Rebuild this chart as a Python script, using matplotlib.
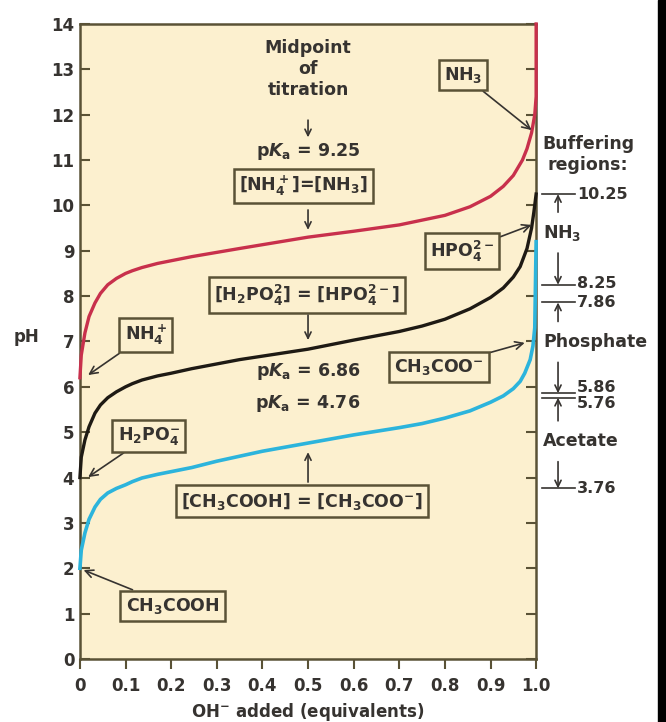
import matplotlib
matplotlib.use('Agg')
import matplotlib.pyplot as plt
from matplotlib.patches import Rectangle

plt.rcParams['font.family'] = ['DejaVu Sans']
plt.rcParams['font.weight'] = 'bold'
plt.rcParams['mathtext.fontset'] = 'custom'
plt.rcParams['mathtext.rm'] = 'DejaVu Sans:bold'
plt.rcParams['mathtext.it'] = 'DejaVu Sans:italic:bold'
plt.rcParams['mathtext.bf'] = 'DejaVu Sans:bold'
plt.rcParams['mathtext.default'] = 'rm'

# curve readings (OH- equivalents, pH)
acetate_x = [0, 0.003, 0.011, 0.02, 0.033, 0.045, 0.061, 0.08, 0.1, 0.115, 0.136, 0.17,
             0.2, 0.245, 0.3, 0.4, 0.5, 0.6, 0.7, 0.75, 0.8, 0.855, 0.9, 0.928, 0.95,
             0.965, 0.975, 0.987, 0.993, 0.997, 1.0]
acetate_ph = [2.0, 2.4, 2.78, 3.08, 3.35, 3.52, 3.66, 3.76, 3.84, 3.91, 3.99, 4.07,
              4.13, 4.22, 4.36, 4.58, 4.76, 4.94, 5.1, 5.19, 5.31, 5.47, 5.66, 5.8, 5.96,
              6.12, 6.3, 6.6, 6.9, 7.3, 9.2]

phosphate_x = [0, 0.003, 0.011, 0.02, 0.033, 0.045, 0.061, 0.08, 0.1, 0.115, 0.136,
               0.17, 0.2, 0.245, 0.35, 0.5, 0.6, 0.7, 0.75, 0.8, 0.855, 0.9, 0.928,
               0.95, 0.965, 0.98, 0.99, 0.995, 1.0]
phosphate_ph = [4.0, 4.45, 4.83, 5.12, 5.42, 5.6, 5.76, 5.89, 6.0, 6.07, 6.15,
                6.24, 6.3, 6.4, 6.6, 6.83, 7.03, 7.22, 7.34, 7.49, 7.72, 7.97, 8.18,
                8.42, 8.65, 9.05, 9.5, 9.85, 10.25]

ammonia_x = [0, 0.003, 0.011, 0.02, 0.033, 0.045, 0.061, 0.08, 0.1, 0.115, 0.136, 0.17,
             0.2, 0.245, 0.35, 0.5, 0.6, 0.7, 0.8, 0.855, 0.9, 0.928, 0.95, 0.97,
             0.98, 0.99, 0.997, 1.0, 1.0]
ammonia_ph = [6.2, 6.7, 7.19, 7.55, 7.85, 8.06, 8.25, 8.39, 8.5, 8.56, 8.63, 8.72,
              8.78, 8.87, 9.05, 9.3, 9.43, 9.57, 9.78, 9.97, 10.2, 10.42, 10.66, 11.0,
              11.25, 11.6, 12.0, 12.4, 14.0]

# buffering region limits on the right side
region_names = ['NH$_3$', 'Phosphate', 'Acetate']
region_top = [10.25, 7.86, 5.76]
region_bottom = [8.25, 5.86, 3.76]
region_label_y = [9.4, 6.99, 4.8]
top_label_shift = [0.0, 0.0, -0.13]
bottom_label_shift = [0.02, 0.12, 0.0]

bg = '#fcf0cf'
edge = '#5a5236'
txt = '#363330'
fs = 12.5

fig = plt.figure(figsize=(6.66, 7.22), dpi=100)
ax = fig.add_axes([0.120, 0.0873, 0.685, 0.8795])
ax.set_facecolor(bg)

ax.plot(ammonia_x, ammonia_ph, color='#c8304c', lw=2.4, solid_joinstyle='round', clip_on=False, zorder=3)
ax.plot(phosphate_x, phosphate_ph, color='#1e1a14', lw=2.4, solid_joinstyle='round', clip_on=False, zorder=3)
ax.plot(acetate_x, acetate_ph, color='#2cb4dc', lw=2.6, solid_joinstyle='round', clip_on=False, zorder=3)

ax.set_xlim(0, 1.0)
ax.set_ylim(0, 14)
ax.set_xticks([0, 0.1, 0.2, 0.3, 0.4, 0.5, 0.6, 0.7, 0.8, 0.9, 1.0])
ax.set_xticklabels(['0', '0.1', '0.2', '0.3', '0.4', '0.5', '0.6', '0.7', '0.8', '0.9', '1.0'])
ax.set_yticks(range(0, 15))
for s in ax.spines.values():
    s.set_color(edge)
    s.set_linewidth(1.8)
ax.tick_params(axis='y', direction='in', length=7, width=1.5, color=edge,
               labelsize=12, labelcolor=txt, pad=4, right=True)
ax.tick_params(axis='x', direction='out', length=7, width=1.5, color=edge,
               labelsize=12, labelcolor=txt, pad=6)
for lab in ax.get_xticklabels() + ax.get_yticklabels():
    lab.set_fontweight('bold')

ax.text(-0.116, 7.1, 'pH', fontsize=12, color=txt, ha='center', va='center')
ax.text(0.5, -1.17, 'OH$^{-}$ added (equivalents)', fontsize=12, color=txt,
        ha='center', va='center', clip_on=False)

box = dict(boxstyle='square,pad=0.3', fc=bg, ec=edge, lw=1.8)
arr = dict(arrowstyle='->,head_length=0.45,head_width=0.22', color=txt, lw=1.2,
           shrinkA=0, shrinkB=0)

# midpoint annotations
ax.text(0.5, 13.01, 'Midpoint\nof\ntitration', fontsize=fs, color=txt,
        ha='center', va='center', linespacing=1.2)
ax.annotate('', xy=(0.5, 11.5), xytext=(0.5, 11.88), arrowprops=arr)
ax.text(0.5, 11.18, 'p$\\mathit{K}_\\mathrm{a}$ = 9.25', fontsize=fs, color=txt, ha='center', va='center')
ax.text(0.49, 10.43, '[NH$_4^+$]=[NH$_3$]', fontsize=fs, color=txt, ha='center', va='center', bbox=box)
ax.annotate('', xy=(0.5, 9.46), xytext=(0.5, 9.9), arrowprops=arr)

ax.text(0.498, 8.02, '[H$_2$PO$_4^2$] = [HPO$_4^{2-}$]', fontsize=fs, color=txt,
        ha='center', va='center', bbox=box)
ax.annotate('', xy=(0.5, 7.03), xytext=(0.5, 7.58), arrowprops=arr)
ax.text(0.5, 6.33, 'p$\\mathit{K}_\\mathrm{a}$ = 6.86', fontsize=fs, color=txt, ha='center', va='center')
ax.text(0.5, 5.64, 'p$\\mathit{K}_\\mathrm{a}$ = 4.76', fontsize=fs, color=txt, ha='center', va='center')

ax.text(0.487, 3.48, '[CH$_3$COOH] = [CH$_3$COO$^{-}$]', fontsize=fs, color=txt,
        ha='center', va='center', bbox=box)
ax.annotate('', xy=(0.5, 4.56), xytext=(0.5, 3.9), arrowprops=arr)

# species labels with pointers
ax.annotate('NH$_3$', xy=(0.99, 11.66), xytext=(0.84, 12.87), fontsize=fs, color=txt,
            ha='center', va='center', bbox=box, arrowprops=arr)
ax.annotate('HPO$_4^{2-}$', xy=(0.99, 9.57), xytext=(0.838, 8.99), fontsize=fs, color=txt,
            ha='center', va='center', bbox=box, arrowprops=arr)
ax.annotate('CH$_3$COO$^{-}$', xy=(0.975, 6.97), xytext=(0.787, 6.44), fontsize=fs, color=txt,
            ha='center', va='center', bbox=box, arrowprops=arr)
ax.annotate('NH$_4^+$', xy=(0.018, 6.26), xytext=(0.144, 7.14), fontsize=fs, color=txt,
            ha='center', va='center', bbox=box, arrowprops=arr)
ax.annotate('H$_2$PO$_4^{-}$', xy=(0.018, 4.01), xytext=(0.151, 4.92), fontsize=fs, color=txt,
            ha='center', va='center', bbox=box, arrowprops=arr)
ax.annotate('CH$_3$COOH', xy=(0.008, 1.96), xytext=(0.203, 1.17), fontsize=fs, color=txt,
            ha='center', va='center', bbox=box, arrowprops=arr)

# buffering regions
ax.text(1.114, 11.12, 'Buffering\nregions:', fontsize=fs, color=txt, ha='center',
        va='center', linespacing=1.2, clip_on=False)
xl, xr, xa = 1.013, 1.086, 1.048
for i, name in enumerate(region_names):
    top, bot, ly = region_top[i], region_bottom[i], region_label_y[i]
    ax.plot([xl, xr], [top, top], color=txt, lw=1.2, clip_on=False)
    ax.plot([xl, xr], [bot, bot], color=txt, lw=1.2, clip_on=False)
    ax.annotate('', xy=(xa, top), xytext=(xa, ly + 0.45), arrowprops=arr, annotation_clip=False)
    ax.annotate('', xy=(xa, bot), xytext=(xa, ly - 0.45), arrowprops=arr, annotation_clip=False)
    ax.text(1.015, ly, name, fontsize=fs, color=txt, ha='left', va='center', clip_on=False)
    ax.text(1.09, top + top_label_shift[i], f'{top:.2f}', fontsize=11.5, color=txt,
            ha='left', va='center', clip_on=False)
    ax.text(1.09, bot + bottom_label_shift[i], f'{bot:.2f}', fontsize=11.5, color=txt,
            ha='left', va='center', clip_on=False)

fig.patches.append(Rectangle((658 / 666, 0), 8 / 666, 1, transform=fig.transFigure,
                             color='black', zorder=10))

fig.savefig('out.png', dpi=100)
